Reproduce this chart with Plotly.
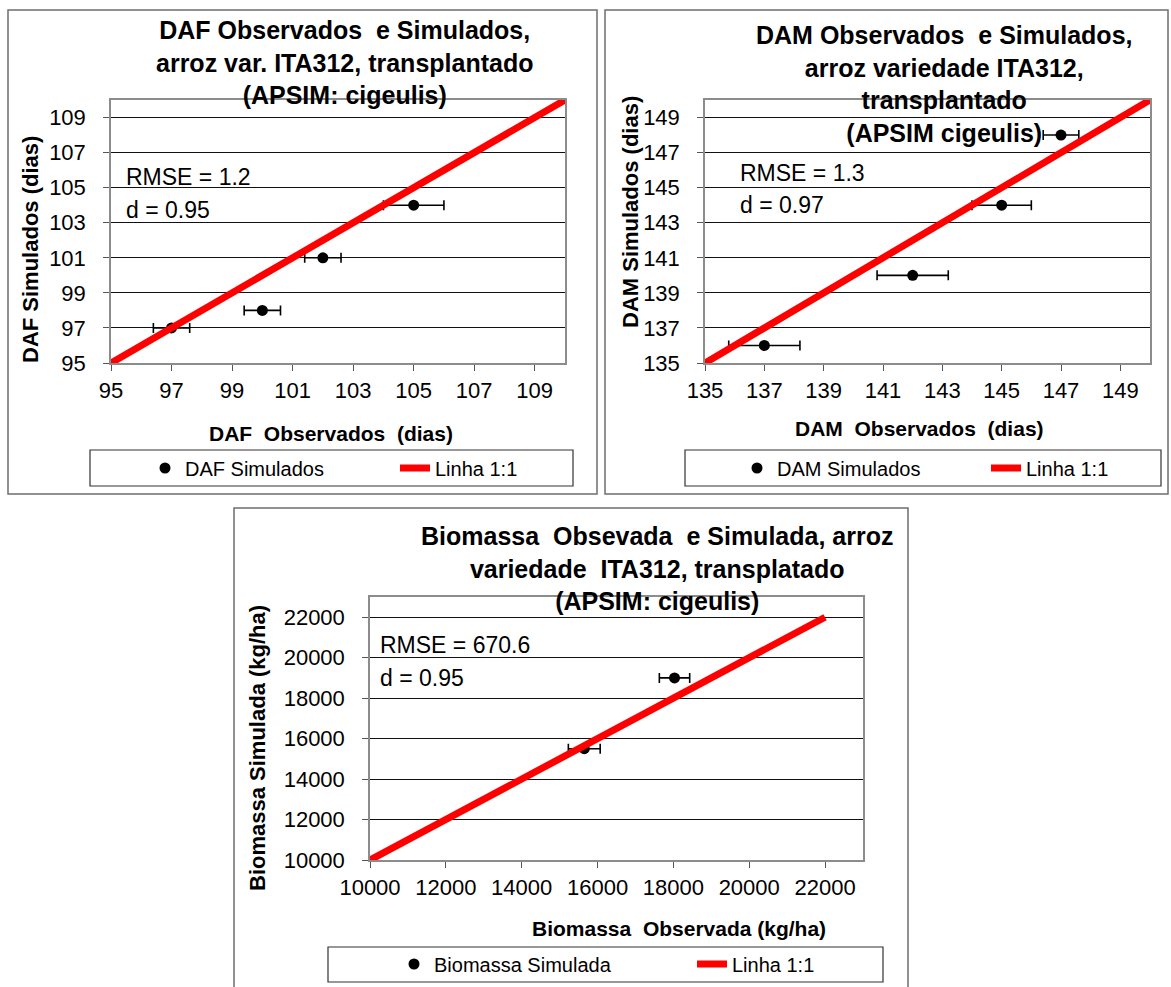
import plotly.graph_objects as go

W, H = 1171, 987
FONT = "Liberation Sans, Arial, sans-serif"

# ---------------- data ----------------
daf_obs = [97, 100, 102, 105]
daf_sim = [97, 98, 101, 104]
daf_err = [0.6, 0.6, 0.6, 1.0]
daf_line = [95, 110]
daf_ticks = [95, 97, 99, 101, 103, 105, 107, 109]

dam_obs = [137, 142, 145, 147]
dam_sim = [136, 140, 144, 148]
dam_err = [1.2, 1.2, 1.0, 0.6]
dam_line = [135, 150]
dam_ticks = [135, 137, 139, 141, 143, 145, 147, 149]

bio_obs = [15650, 18030]
bio_sim = [15500, 19000]
bio_err = [420, 400]
bio_line = [10000, 22000]
bio_ticks = [10000, 12000, 14000, 16000, 18000, 20000, 22000]

titles = [
    "DAF Observados  e Simulados,<br>arroz var. ITA312, transplantado<br>(APSIM: cigeulis)",
    "DAM Observados  e Simulados,<br>arroz variedade ITA312,<br>transplantado<br>(APSIM cigeulis)",
    "Biomassa  Obsevada  e Simulada, arroz<br>variedade  ITA312, transplatado<br>(APSIM: cigeulis)",
]
xtitles = ["DAF  Observados  (dias)", "DAM  Observados  (dias)", "Biomassa  Observada (kg/ha)"]
ytitles = ["DAF Simulados (dias)", "DAM Simulados (dias)", "Biomassa Simulada (kg/ha)"]
stats = [("RMSE = 1.2", "d = 0.95"), ("RMSE = 1.3", "d = 0.97"), ("RMSE = 670.6", "d = 0.95")]
sim_names = ["DAF Simulados", "DAM Simulados", "Biomassa Simulada"]
line_name = "Linha 1:1"


def px(x):
    return x / W


def py(y):
    return 1 - y / H


fig = go.Figure()

panels = [
    dict(obs=daf_obs, sim=daf_sim, err=daf_err, line=daf_line, ticks=daf_ticks, rng=[95, 110],
         xd=(111, 565), yd=(100, 363), leg="legend", ax=""),
    dict(obs=dam_obs, sim=dam_sim, err=dam_err, line=dam_line, ticks=dam_ticks, rng=[135, 150],
         xd=(705, 1150), yd=(100, 363), leg="legend2", ax="2"),
    dict(obs=bio_obs, sim=bio_sim, err=bio_err, line=bio_line, ticks=bio_ticks, rng=[10000, 23000],
         xd=(370, 863), yd=(597, 860), leg="legend3", ax="3"),
]

for i, p in enumerate(panels):
    xa = "x" + p["ax"]
    ya = "y" + p["ax"]
    fig.add_trace(go.Scatter(
        x=p["obs"], y=p["sim"], mode="markers", name=sim_names[i],
        marker=dict(color="black", size=11, symbol="circle"),
        error_x=dict(type="data", array=p["err"], visible=True, color="black", thickness=1.6, width=5),
        xaxis=xa, yaxis=ya, legend=p["leg"], cliponaxis=False,
    ))
    fig.add_trace(go.Scatter(
        x=p["line"], y=p["line"], mode="lines", name=line_name,
        line=dict(color="#ff0000", width=7),
        xaxis=xa, yaxis=ya, legend=p["leg"],
    ))

axis_common = dict(
    showline=True, linecolor="#8c8c8c", linewidth=1.5, mirror=True,
    ticks="outside", ticklen=6, tickcolor="#555555", tickwidth=1,
    tickfont=dict(family=FONT, size=22, color="black"),
    zeroline=False, automargin=False, tickangle=0,
)

layout = dict(
    width=W, height=H, margin=dict(l=0, r=0, t=0, b=0, autoexpand=False),
    paper_bgcolor="white", plot_bgcolor="white",
    font=dict(family=FONT, color="black"),
    showlegend=True,
)

for i, p in enumerate(panels):
    sfx = p["ax"]
    xk = "xaxis" + sfx
    yk = "yaxis" + sfx
    layout[xk] = dict(
        axis_common, domain=[px(p["xd"][0]), px(p["xd"][1])], range=p["rng"],
        tickmode="array", tickvals=p["ticks"], showgrid=False,
        anchor="y" + sfx, ticklabelstandoff=1, tickformat="d",
    )
    layout[yk] = dict(
        axis_common, domain=[py(p["yd"][1]), py(p["yd"][0])], range=p["rng"],
        tickmode="array", tickvals=p["ticks"], showgrid=True, gridcolor="#111111", gridwidth=1,
        anchor="x" + sfx, ticklabelstandoff=13, tickformat="d",
    )

legend_specs = [
    ("legend", 145, 468, 205),
    ("legend2", 737, 468, 204),
    ("legend3", 394, 964, 253),
]
for name, lx, ly, ew in legend_specs:
    layout[name] = dict(
        x=px(lx), y=py(ly), xanchor="left", yanchor="middle", orientation="h",
        bgcolor="rgba(0,0,0,0)", borderwidth=0,
        font=dict(family=FONT, size=20, color="black"),
        entrywidth=ew, entrywidthmode="pixels",
    )

fig.update_layout(**layout)

# frames & legend boxes
frames = [(8, 10, 597, 494), (605, 10, 1168, 494), (234, 508, 908, 992)]
for x0, y0, x1, y1 in frames:
    fig.add_shape(type="rect", xref="paper", yref="paper", x0=px(x0), y0=py(y1), x1=px(x1), y1=py(y0),
                  line=dict(color="#6e6e6e", width=1.5), layer="below")
legboxes = [(90, 450, 573, 486), (685, 450, 1161, 486), (328, 947, 883, 982)]
for x0, y0, x1, y1 in legboxes:
    fig.add_shape(type="rect", xref="paper", yref="paper", x0=px(x0), y0=py(y1), x1=px(x1), y1=py(y0),
                  line=dict(color="#333333", width=1.2), layer="below")

# titles
title_pos = [(344, 62), (944, 84), (657, 568)]
for t, (tx, ty) in zip(titles, title_pos):
    fig.add_annotation(text="<b>" + t + "</b>", xref="paper", yref="paper", x=px(tx), y=py(ty),
                       xanchor="center", yanchor="middle", showarrow=False, align="center",
                       font=dict(family=FONT, size=25, color="black"))

# axis titles
xt_pos = [(331, 433), (919, 428), (679, 928)]
yt_pos = [(30, 250), (630, 212), (257, 748)]
for t, (tx, ty) in zip(xtitles, xt_pos):
    fig.add_annotation(text="<b>" + t + "</b>", xref="paper", yref="paper", x=px(tx), y=py(ty),
                       xanchor="center", yanchor="middle", showarrow=False,
                       font=dict(family=FONT, size=21, color="black"))
for t, (tx, ty) in zip(ytitles, yt_pos):
    fig.add_annotation(text="<b>" + t + "</b>", xref="paper", yref="paper", x=px(tx), y=py(ty),
                       xanchor="center", yanchor="middle", showarrow=False, textangle=-90,
                       font=dict(family=FONT, size=22, color="black"))

# statistics text
stat_pos = [(124, 177, 210), (738, 173, 205), (378, 645, 678)]
for (s1, s2), (sx, sy1, sy2) in zip(stats, stat_pos):
    fig.add_annotation(text=s1, xref="paper", yref="paper", x=px(sx), y=py(sy1),
                       xanchor="left", yanchor="middle", showarrow=False,
                       font=dict(family=FONT, size=23, color="black"))
    fig.add_annotation(text=s2, xref="paper", yref="paper", x=px(sx), y=py(sy2),
                       xanchor="left", yanchor="middle", showarrow=False,
                       font=dict(family=FONT, size=23, color="black"))

fig.write_html("out.html")
